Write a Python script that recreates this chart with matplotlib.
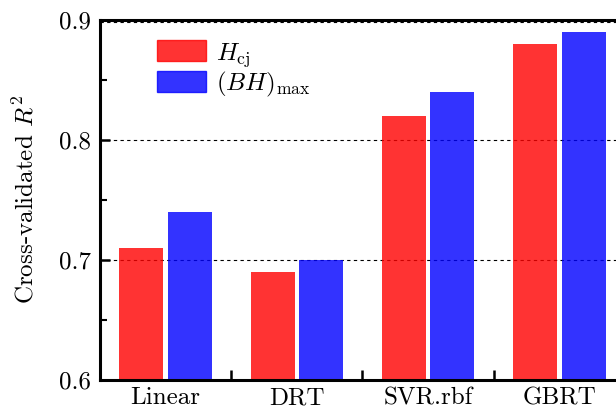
import numpy as np
import matplotlib
matplotlib.use('Agg')
import matplotlib.pyplot as plt
from matplotlib.patches import Patch

# data
models = ["Linear", "DRT", "SVR.rbf", "GBRT"]
r2_hcj = [0.71, 0.69, 0.82, 0.88]
r2_bhmax = [0.74, 0.70, 0.84, 0.89]

plt.rcParams['font.family'] = 'cmr10'
plt.rcParams['mathtext.fontset'] = 'cm'
plt.rcParams['axes.formatter.use_mathtext'] = True

fig = plt.figure(figsize=(6.16, 4.09), dpi=100)
ax = fig.add_axes([0.162, 0.071, 0.838, 0.880])

x = np.arange(len(models))
w = 0.335
off = 0.183
ax.bar(x - off, r2_hcj, w, color='red', alpha=0.8, zorder=2)
ax.bar(x + off, r2_bhmax, w, color='blue', alpha=0.8, zorder=2)

# dashed grid behind the translucent bars
for yv in [0.7, 0.8, 0.898]:
    ax.axhline(yv, color='black', ls=(0, (3, 3)), lw=0.8, zorder=1)

ax.set_ylim(0.6, 0.9)
ax.set_xlim(-0.5, 3.43)
ax.set_yticks([0.6, 0.7, 0.8, 0.9])
ax.set_yticklabels(["0.6", "0.7", "0.8", "0.9"])
ax.set_yticks([0.65, 0.75, 0.85], minor=True)
ax.set_xticks([0.5, 1.5, 2.5])
ax.set_xticklabels([])
ax.set_xticks(x, minor=True)
ax.set_xticklabels(models, minor=True)
ax.tick_params(axis='x', which='minor', length=0, labelsize=18, pad=5)
ax.tick_params(axis='x', which='major', direction='in', length=7, width=1.8)
ax.tick_params(axis='y', which='major', direction='in', length=7, width=1.8, labelsize=18, pad=6)
ax.tick_params(axis='y', which='minor', direction='in', length=5, width=1.5)

for s in ['left', 'bottom', 'top']:
    ax.spines[s].set_linewidth(2.2)
ax.spines['right'].set_visible(False)

ax.set_ylabel(r"Cross-validated $R^2$", fontsize=18, labelpad=15)

handles = [Patch(color='red', alpha=0.8), Patch(color='blue', alpha=0.8)]
ax.legend(handles, [r"$H_{\mathrm{cj}}$", r"$(BH)_{\max}$"], frameon=False,
          loc='upper left', bbox_to_anchor=(0.091, 0.972), borderaxespad=0,
          fontsize=18, handlelength=1.96, handleheight=0.92,
          handletextpad=0.4, labelspacing=0.06)

fig.savefig("out.png", dpi=100)
